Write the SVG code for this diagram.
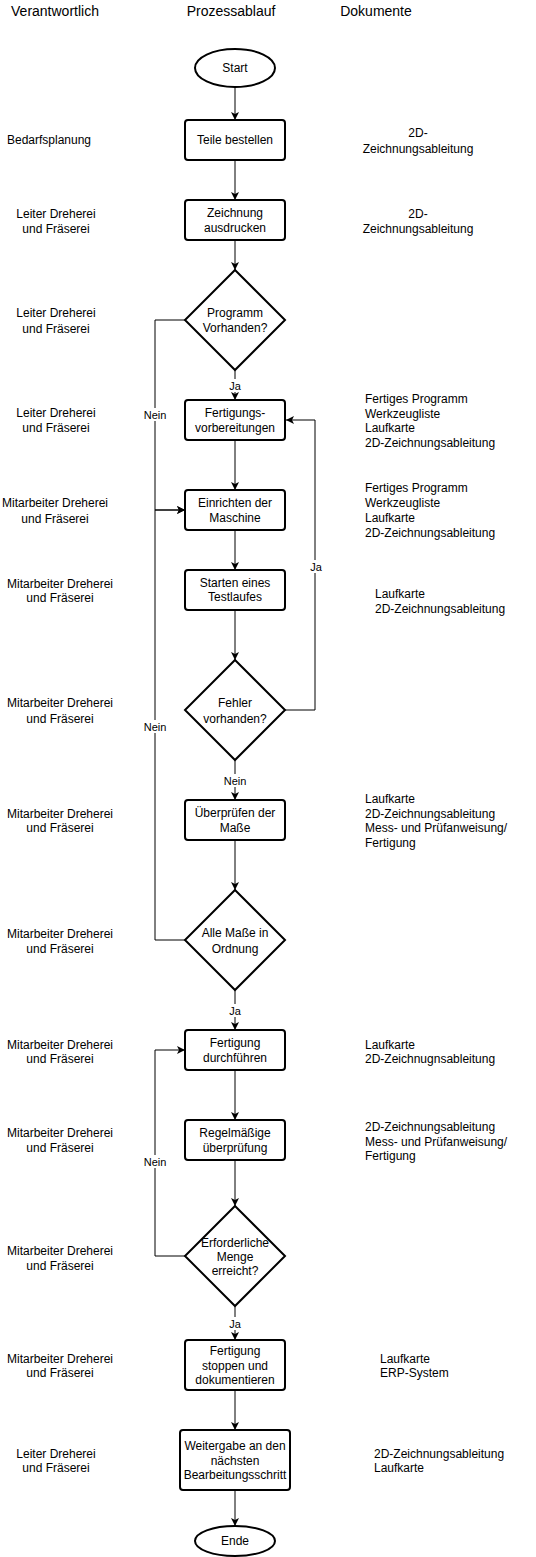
<svg xmlns="http://www.w3.org/2000/svg" width="536" height="1557" viewBox="0 0 536 1557">
<defs>
<marker id="arr" markerUnits="userSpaceOnUse" markerWidth="10" markerHeight="10" refX="8" refY="4" orient="auto">
<path d="M0,0 L8,4 L0,8 L2,4 z" fill="#000"/>
</marker>
<style>
text{font-family:"Liberation Sans",Arial,sans-serif;fill:#000}
.h{font-size:14px}
.t{font-size:12px}
.c{text-anchor:middle}
.l{font-size:11px;text-anchor:middle}
.box{fill:#fff;stroke:#000;stroke-width:2}
.e{stroke:#000;stroke-width:1;fill:none}
.e2{stroke:#000;stroke-width:1;fill:none;marker-end:url(#arr)}
.lb{fill:#fff;stroke:none}
</style>
</defs>
<rect width="536" height="1557" fill="#fff"/>
<g id="headers">
<text class="h c" x="55" y="16">Verantwortlich</text>
<text class="h c" x="231" y="16">Prozessablauf</text>
<text class="h c" x="376" y="16">Dokumente</text>
</g>
<g id="connectors">
<line class="e2" x1="235" y1="87" x2="235" y2="120"/>
<line class="e2" x1="235" y1="160" x2="235" y2="200"/>
<line class="e2" x1="235" y1="240" x2="235" y2="270"/>
<line class="e2" x1="235" y1="370" x2="235" y2="400"/>
<polyline class="e2" points="185,320 155,320 155,510 185,510"/>
<line class="e2" x1="235" y1="440" x2="235" y2="490"/>
<line class="e2" x1="235" y1="530" x2="235" y2="570"/>
<line class="e2" x1="235" y1="610" x2="235" y2="660"/>
<polyline class="e2" points="285,710 315,710 315,420 286,420"/>
<line class="e2" x1="235" y1="760" x2="235" y2="800"/>
<line class="e2" x1="235" y1="840" x2="235" y2="890"/>
<polyline class="e2" points="185,940 155,940 155,510 185,510"/>
<line class="e2" x1="235" y1="990" x2="235" y2="1030"/>
<line class="e2" x1="235" y1="1070" x2="235" y2="1120"/>
<line class="e2" x1="235" y1="1160" x2="235" y2="1206"/>
<polyline class="e2" points="185,1256 155,1256 155,1050 185,1050"/>
<line class="e2" x1="235" y1="1306" x2="235" y2="1340"/>
<line class="e2" x1="235" y1="1390" x2="235" y2="1430"/>
<line class="e2" x1="235" y1="1490" x2="235" y2="1526"/>
<rect class="lb" x="228" y="379" width="14" height="13"/>
<text class="l" x="235" y="390">Ja</text>
<rect class="lb" x="143" y="408" width="24" height="13"/>
<text class="l" x="155" y="419">Nein</text>
<rect class="lb" x="308" y="560" width="14" height="13"/>
<text class="l" x="316" y="571">Ja</text>
<rect class="lb" x="143" y="720" width="24" height="13"/>
<text class="l" x="155" y="731">Nein</text>
<rect class="lb" x="223" y="774" width="24" height="13"/>
<text class="l" x="235" y="785">Nein</text>
<rect class="lb" x="228" y="1004" width="14" height="13"/>
<text class="l" x="235" y="1015">Ja</text>
<rect class="lb" x="143" y="1155" width="24" height="13"/>
<text class="l" x="155" y="1166">Nein</text>
<rect class="lb" x="228" y="1317" width="14" height="13"/>
<text class="l" x="235" y="1328">Ja</text>
</g>
<g id="start">
<ellipse class="box" cx="235" cy="68" rx="40" ry="19"/>
<text class="t c" x="235" y="72">Start</text>
</g>
<g id="teile">
<rect class="box" x="185" y="120" width="100" height="40" rx="3"/>
<text class="t c" x="235" y="144">Teile bestellen</text>
</g>
<g id="zeichnung">
<rect class="box" x="185" y="200" width="100" height="40" rx="3"/>
<text class="t c" x="235" y="217">Zeichnung</text>
<text class="t c" x="235" y="232">ausdrucken</text>
</g>
<g id="programm">
<polygon class="box" points="235,270 285,320 235,370 185,320"/>
<text class="t c" x="235" y="317">Programm</text>
<text class="t c" x="235" y="332">Vorhanden?</text>
</g>
<g id="fertigungsvorbereitung">
<rect class="box" x="185" y="400" width="100" height="40" rx="3"/>
<text class="t c" x="235" y="417">Fertigungs-</text>
<text class="t c" x="235" y="432">vorbereitungen</text>
</g>
<g id="einrichten">
<rect class="box" x="185" y="490" width="100" height="40" rx="3"/>
<text class="t c" x="235" y="507">Einrichten der</text>
<text class="t c" x="235" y="522">Maschine</text>
</g>
<g id="starten">
<rect class="box" x="185" y="570" width="100" height="40" rx="3"/>
<text class="t c" x="235" y="587">Starten eines</text>
<text class="t c" x="235" y="601">Testlaufes</text>
</g>
<g id="fehler">
<polygon class="box" points="235,660 285,710 235,760 185,710"/>
<text class="t c" x="235" y="707">Fehler</text>
<text class="t c" x="235" y="723">vorhanden?</text>
</g>
<g id="ueberpruefen">
<rect class="box" x="185" y="800" width="100" height="40" rx="3"/>
<text class="t c" x="235" y="817">Überprüfen der</text>
<text class="t c" x="235" y="832">Maße</text>
</g>
<g id="alle">
<polygon class="box" points="235,890 285,940 235,990 185,940"/>
<text class="t c" x="235" y="937">Alle Maße in</text>
<text class="t c" x="235" y="953">Ordnung</text>
</g>
<g id="durchfuehren">
<rect class="box" x="185" y="1030" width="100" height="40" rx="3"/>
<text class="t c" x="235" y="1047">Fertigung</text>
<text class="t c" x="235" y="1062">durchführen</text>
</g>
<g id="regelmaessig">
<rect class="box" x="185" y="1120" width="100" height="40" rx="3"/>
<text class="t c" x="235" y="1137">Regelmäßige</text>
<text class="t c" x="235" y="1152">überprüfung</text>
</g>
<g id="menge">
<polygon class="box" points="235,1206 285,1256 235,1306 185,1256"/>
<text class="t c" x="235" y="1247">Erforderliche</text>
<text class="t c" x="235" y="1261">Menge</text>
<text class="t c" x="235" y="1275">erreicht?</text>
</g>
<g id="stoppen">
<rect class="box" x="185" y="1340" width="100" height="50" rx="3"/>
<text class="t c" x="235" y="1355">Fertigung</text>
<text class="t c" x="235" y="1370">stoppen und</text>
<text class="t c" x="235" y="1384">dokumentieren</text>
</g>
<g id="weitergabe">
<rect class="box" x="180" y="1430" width="110" height="60" rx="3"/>
<text class="t c" x="235" y="1450">Weitergabe an den</text>
<text class="t c" x="235" y="1465">nächsten</text>
<text class="t c" x="235" y="1479">Bearbeitungsschritt</text>
</g>
<g id="ende">
<ellipse class="box" cx="235" cy="1541" rx="40" ry="15"/>
<text class="t c" x="235" y="1545">Ende</text>
</g>
<g id="verantwortlich">
<text class="t c" x="49" y="144">Bedarfsplanung</text>
<text class="t c" x="56" y="218">Leiter Dreherei</text>
<text class="t c" x="56" y="233">und Fräserei</text>
<text class="t c" x="56" y="317">Leiter Dreherei</text>
<text class="t c" x="56" y="333">und Fräserei</text>
<text class="t c" x="56" y="417">Leiter Dreherei</text>
<text class="t c" x="56" y="432">und Fräserei</text>
<text class="t c" x="55" y="507">Mitarbeiter Dreherei</text>
<text class="t c" x="55" y="523">und Fräserei</text>
<text class="t c" x="60" y="588">Mitarbeiter Dreherei</text>
<text class="t c" x="60" y="602">und Fräserei</text>
<text class="t c" x="60" y="707">Mitarbeiter Dreherei</text>
<text class="t c" x="60" y="723">und Fräserei</text>
<text class="t c" x="60" y="818">Mitarbeiter Dreherei</text>
<text class="t c" x="60" y="832">und Fräserei</text>
<text class="t c" x="60" y="938">Mitarbeiter Dreherei</text>
<text class="t c" x="60" y="953">und Fräserei</text>
<text class="t c" x="60" y="1049">Mitarbeiter Dreherei</text>
<text class="t c" x="60" y="1063">und Fräserei</text>
<text class="t c" x="60" y="1137">Mitarbeiter Dreherei</text>
<text class="t c" x="60" y="1152">und Fräserei</text>
<text class="t c" x="60" y="1255">Mitarbeiter Dreherei</text>
<text class="t c" x="60" y="1270">und Fräserei</text>
<text class="t c" x="60" y="1363">Mitarbeiter Dreherei</text>
<text class="t c" x="60" y="1377">und Fräserei</text>
<text class="t c" x="56" y="1458">Leiter Dreherei</text>
<text class="t c" x="56" y="1472">und Fräserei</text>
</g>
<g id="dokumente">
<text class="t c" x="418" y="137">2D-</text>
<text class="t c" x="418" y="153">Zeichnungsableitung</text>
<text class="t c" x="418" y="218">2D-</text>
<text class="t c" x="418" y="233">Zeichnungsableitung</text>
<text class="t" x="365" y="403">Fertiges Programm</text>
<text class="t" x="365" y="418">Werkzeugliste</text>
<text class="t" x="365" y="432">Laufkarte</text>
<text class="t" x="365" y="447">2D-Zeichnungsableitung</text>
<text class="t" x="365" y="492">Fertiges Programm</text>
<text class="t" x="365" y="507">Werkzeugliste</text>
<text class="t" x="365" y="522">Laufkarte</text>
<text class="t" x="365" y="537">2D-Zeichnungsableitung</text>
<text class="t" x="375" y="598">Laufkarte</text>
<text class="t" x="375" y="613">2D-Zeichnungsableitung</text>
<text class="t" x="365" y="803">Laufkarte</text>
<text class="t" x="365" y="818">2D-Zeichnungsableitung</text>
<text class="t" x="365" y="832">Mess- und Prüfanweisung/</text>
<text class="t" x="365" y="847">Fertigung</text>
<text class="t" x="365" y="1049">Laufkarte</text>
<text class="t" x="365" y="1063">2D-Zeichnugnsableitung</text>
<text class="t" x="365" y="1131">2D-Zeichnungsableitung</text>
<text class="t" x="365" y="1146">Mess- und Prüfanweisung/</text>
<text class="t" x="365" y="1160">Fertigung</text>
<text class="t" x="380" y="1363">Laufkarte</text>
<text class="t" x="380" y="1377">ERP-System</text>
<text class="t" x="374" y="1458">2D-Zeichnungsableitung</text>
<text class="t" x="374" y="1472">Laufkarte</text>
</g>
</svg>
